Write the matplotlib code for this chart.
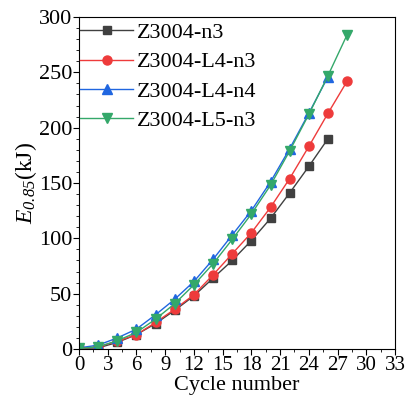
import matplotlib
matplotlib.use("Agg")
import matplotlib.pyplot as plt
from matplotlib.ticker import MultipleLocator

plt.rcParams['font.family'] = ['Liberation Serif', 'DejaVu Serif']
plt.rcParams['mathtext.fontset'] = 'custom'
plt.rcParams['mathtext.rm'] = 'Liberation Serif'
plt.rcParams['mathtext.it'] = 'Liberation Serif:italic'
# italic digits for the subscript
plt.rcParams['mathtext.sf'] = 'Liberation Serif:italic'

# cycle numbers
x_26 = [0, 2, 4, 6, 8, 10, 12, 14, 16, 18, 20, 22, 24, 26]
x_28 = [0, 2, 4, 6, 8, 10, 12, 14, 16, 18, 20, 22, 24, 26, 28]

# E_0.85 values (kJ)
n3 = [0.5, 1, 6, 13, 23, 35, 48, 64, 80, 98, 118, 141, 165, 190]
l4_n3 = [0.5, 2, 7, 13, 24, 36, 49, 67, 86, 105, 128, 154, 183, 213, 242]
l4_n4 = [1, 3.5, 10, 18, 31, 45, 61, 81, 103, 125, 151, 181, 213, 246]
l5_n3 = [0.5, 2, 7.5, 15, 27, 41, 58, 77, 99, 122, 148, 179, 212, 247, 284]

labels = ["Z3004-n3", "Z3004-L4-n3", "Z3004-L4-n4", "Z3004-L5-n3"]

fig = plt.figure(figsize=(4.06, 4.08), dpi=100)
ax = fig.add_axes([79 / 406, 59 / 408, 316 / 406, 332 / 408])

ax.plot(x_26, n3, color='#404040', marker='s', ms=5.5, lw=1, label=labels[0])
ax.plot(x_28, l4_n3, color='#ee3b3b', marker='o', ms=6.5, lw=1, label=labels[1])
ax.plot(x_26, l4_n4, color='#2066e0', marker='^', ms=6.5, lw=1, label=labels[2])
ax.plot(x_28, l5_n3, color='#34a86a', marker='v', ms=6.5, lw=1, label=labels[3])

ax.set_xlim(0, 33)
ax.set_ylim(0, 300)
ax.xaxis.set_major_locator(MultipleLocator(3))
ax.xaxis.set_minor_locator(MultipleLocator(1.5))
ax.yaxis.set_major_locator(MultipleLocator(50))
ax.yaxis.set_minor_locator(MultipleLocator(10))
ax.tick_params(which='both', direction='out', top=False, right=False, pad=1)
ax.tick_params(axis='x', labelsize=15)
ax.tick_params(axis='y', labelsize=16)
ax.tick_params(which='major', length=4)
ax.tick_params(which='minor', length=2)

ax.set_xlabel("Cycle number", fontsize=16, labelpad=1)
ax.set_ylabel(r"$E_{\mathsf{0.85}}$(kJ)", fontsize=17, labelpad=0)

ax.legend(loc='upper left', frameon=False, fontsize=16, handlelength=2.35,
          borderaxespad=0, labelspacing=0.39, handletextpad=0.2,
          borderpad=0.25, bbox_to_anchor=(-0.013, 1.0))

fig.savefig("out.png", dpi=100)
